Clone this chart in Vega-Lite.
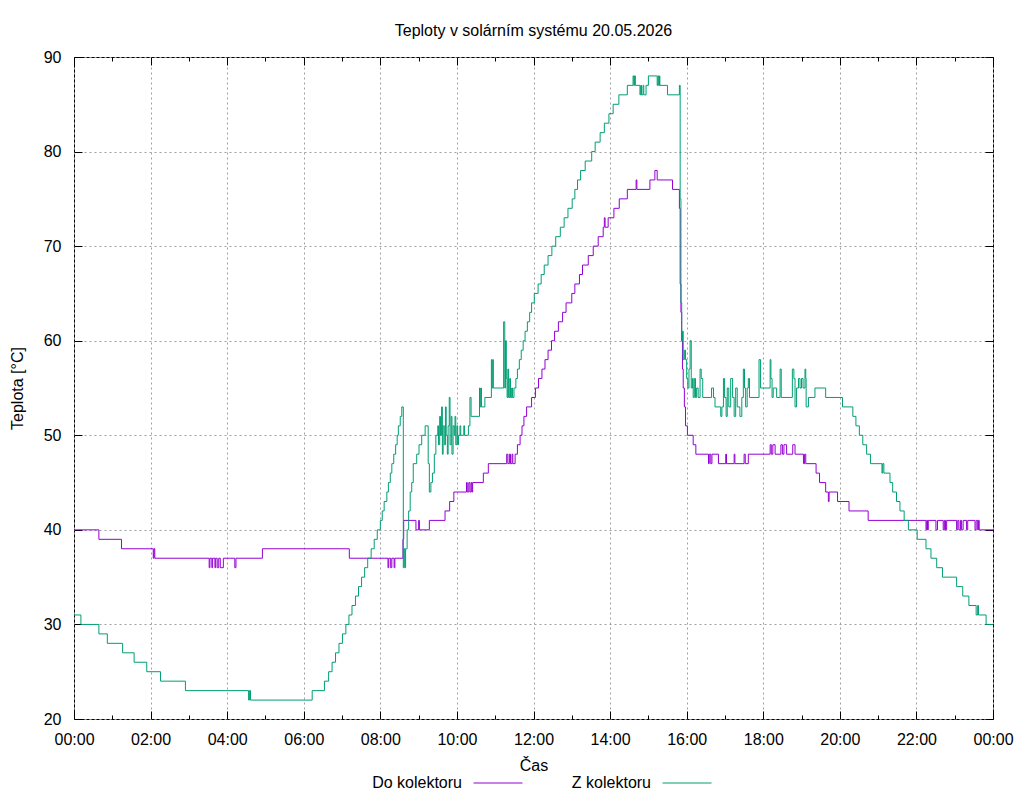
{
  "$schema": "https://vega.github.io/schema/vega-lite/v6.json",
  "width": 919,
  "height": 662,
  "autosize": "none",
  "padding": {"left": 74, "top": 57, "right": 31, "bottom": 81},
  "background": "white",
  "title": {
    "text": "Teploty v solárním systému 20.05.2026",
    "font": "Liberation Sans",
    "fontSize": 16,
    "fontWeight": "normal",
    "color": "black",
    "offset": 10
  },
  "config": {
    "view": {"stroke": "black", "strokeWidth": 1},
    "font": "Liberation Sans",
    "axis": {
      "domain": false,
      "labelFont": "Liberation Sans",
      "labelFontSize": 16,
      "labelColor": "black",
      "titleFont": "Liberation Sans",
      "titleFontSize": 16,
      "titleFontWeight": "normal",
      "titleColor": "black",
      "tickColor": "black",
      "gridColor": "#a0a0a0",
      "gridDash": [2, 3],
      "gridWidth": 1
    }
  },
  "datasets": {
    "teploty": [
      {"serie": "Do kolektoru", "cas": 0, "teplota": 40},
      {"serie": "Do kolektoru", "cas": 0.65, "teplota": 39},
      {"serie": "Do kolektoru", "cas": 1.24, "teplota": 38},
      {"serie": "Do kolektoru", "cas": 2.07, "teplota": 37},
      {"serie": "Do kolektoru", "cas": 2.09, "teplota": 38},
      {"serie": "Do kolektoru", "cas": 2.11, "teplota": 37},
      {"serie": "Do kolektoru", "cas": 3.53, "teplota": 36},
      {"serie": "Do kolektoru", "cas": 3.55, "teplota": 37},
      {"serie": "Do kolektoru", "cas": 3.6, "teplota": 36},
      {"serie": "Do kolektoru", "cas": 3.62, "teplota": 37},
      {"serie": "Do kolektoru", "cas": 3.68, "teplota": 36},
      {"serie": "Do kolektoru", "cas": 3.7, "teplota": 37},
      {"serie": "Do kolektoru", "cas": 3.74, "teplota": 36},
      {"serie": "Do kolektoru", "cas": 3.78, "teplota": 37},
      {"serie": "Do kolektoru", "cas": 3.82, "teplota": 36},
      {"serie": "Do kolektoru", "cas": 3.9, "teplota": 37},
      {"serie": "Do kolektoru", "cas": 4.2, "teplota": 36},
      {"serie": "Do kolektoru", "cas": 4.23, "teplota": 37},
      {"serie": "Do kolektoru", "cas": 4.92, "teplota": 38},
      {"serie": "Do kolektoru", "cas": 7.19, "teplota": 37},
      {"serie": "Do kolektoru", "cas": 8.2, "teplota": 36},
      {"serie": "Do kolektoru", "cas": 8.22, "teplota": 37},
      {"serie": "Do kolektoru", "cas": 8.27, "teplota": 36},
      {"serie": "Do kolektoru", "cas": 8.3, "teplota": 37},
      {"serie": "Do kolektoru", "cas": 8.36, "teplota": 36},
      {"serie": "Do kolektoru", "cas": 8.38, "teplota": 37},
      {"serie": "Do kolektoru", "cas": 8.59, "teplota": 39},
      {"serie": "Do kolektoru", "cas": 8.61, "teplota": 41},
      {"serie": "Do kolektoru", "cas": 8.93, "teplota": 40},
      {"serie": "Do kolektoru", "cas": 9.0, "teplota": 41},
      {"serie": "Do kolektoru", "cas": 9.02, "teplota": 40},
      {"serie": "Do kolektoru", "cas": 9.28, "teplota": 41},
      {"serie": "Do kolektoru", "cas": 9.69, "teplota": 42},
      {"serie": "Do kolektoru", "cas": 9.81, "teplota": 43},
      {"serie": "Do kolektoru", "cas": 9.92, "teplota": 44},
      {"serie": "Do kolektoru", "cas": 10.25, "teplota": 45},
      {"serie": "Do kolektoru", "cas": 10.27, "teplota": 44},
      {"serie": "Do kolektoru", "cas": 10.31, "teplota": 45},
      {"serie": "Do kolektoru", "cas": 10.34, "teplota": 44},
      {"serie": "Do kolektoru", "cas": 10.37, "teplota": 45},
      {"serie": "Do kolektoru", "cas": 10.39, "teplota": 44},
      {"serie": "Do kolektoru", "cas": 10.41, "teplota": 45},
      {"serie": "Do kolektoru", "cas": 10.69, "teplota": 46},
      {"serie": "Do kolektoru", "cas": 10.82, "teplota": 47},
      {"serie": "Do kolektoru", "cas": 11.3, "teplota": 48},
      {"serie": "Do kolektoru", "cas": 11.33, "teplota": 47},
      {"serie": "Do kolektoru", "cas": 11.37, "teplota": 48},
      {"serie": "Do kolektoru", "cas": 11.4, "teplota": 47},
      {"serie": "Do kolektoru", "cas": 11.44, "teplota": 48},
      {"serie": "Do kolektoru", "cas": 11.46, "teplota": 47},
      {"serie": "Do kolektoru", "cas": 11.52, "teplota": 48},
      {"serie": "Do kolektoru", "cas": 11.58, "teplota": 49},
      {"serie": "Do kolektoru", "cas": 11.65, "teplota": 50},
      {"serie": "Do kolektoru", "cas": 11.7, "teplota": 51},
      {"serie": "Do kolektoru", "cas": 11.75, "teplota": 52},
      {"serie": "Do kolektoru", "cas": 11.82, "teplota": 53},
      {"serie": "Do kolektoru", "cas": 11.95, "teplota": 54},
      {"serie": "Do kolektoru", "cas": 12.05, "teplota": 55},
      {"serie": "Do kolektoru", "cas": 12.13, "teplota": 56},
      {"serie": "Do kolektoru", "cas": 12.22, "teplota": 57},
      {"serie": "Do kolektoru", "cas": 12.3, "teplota": 58},
      {"serie": "Do kolektoru", "cas": 12.38, "teplota": 59},
      {"serie": "Do kolektoru", "cas": 12.47, "teplota": 60},
      {"serie": "Do kolektoru", "cas": 12.55, "teplota": 61},
      {"serie": "Do kolektoru", "cas": 12.65, "teplota": 62},
      {"serie": "Do kolektoru", "cas": 12.76, "teplota": 63},
      {"serie": "Do kolektoru", "cas": 12.85, "teplota": 64},
      {"serie": "Do kolektoru", "cas": 13.0, "teplota": 65},
      {"serie": "Do kolektoru", "cas": 13.08, "teplota": 66},
      {"serie": "Do kolektoru", "cas": 13.2, "teplota": 67},
      {"serie": "Do kolektoru", "cas": 13.28, "teplota": 68},
      {"serie": "Do kolektoru", "cas": 13.43, "teplota": 69},
      {"serie": "Do kolektoru", "cas": 13.56, "teplota": 70},
      {"serie": "Do kolektoru", "cas": 13.69, "teplota": 71},
      {"serie": "Do kolektoru", "cas": 13.82, "teplota": 72},
      {"serie": "Do kolektoru", "cas": 13.85, "teplota": 73},
      {"serie": "Do kolektoru", "cas": 13.87, "teplota": 72},
      {"serie": "Do kolektoru", "cas": 13.95, "teplota": 73},
      {"serie": "Do kolektoru", "cas": 14.1, "teplota": 74},
      {"serie": "Do kolektoru", "cas": 14.24, "teplota": 75},
      {"serie": "Do kolektoru", "cas": 14.45, "teplota": 76},
      {"serie": "Do kolektoru", "cas": 14.68, "teplota": 77},
      {"serie": "Do kolektoru", "cas": 14.7, "teplota": 76},
      {"serie": "Do kolektoru", "cas": 15.04, "teplota": 77},
      {"serie": "Do kolektoru", "cas": 15.17, "teplota": 78},
      {"serie": "Do kolektoru", "cas": 15.23, "teplota": 77},
      {"serie": "Do kolektoru", "cas": 15.63, "teplota": 76},
      {"serie": "Do kolektoru", "cas": 15.81, "teplota": 74},
      {"serie": "Do kolektoru", "cas": 15.83, "teplota": 66},
      {"serie": "Do kolektoru", "cas": 15.85, "teplota": 63},
      {"serie": "Do kolektoru", "cas": 15.87, "teplota": 60},
      {"serie": "Do kolektoru", "cas": 15.89, "teplota": 57},
      {"serie": "Do kolektoru", "cas": 15.91, "teplota": 55},
      {"serie": "Do kolektoru", "cas": 15.94, "teplota": 53},
      {"serie": "Do kolektoru", "cas": 15.97, "teplota": 51},
      {"serie": "Do kolektoru", "cas": 16.02, "teplota": 50},
      {"serie": "Do kolektoru", "cas": 16.17, "teplota": 49},
      {"serie": "Do kolektoru", "cas": 16.24, "teplota": 48},
      {"serie": "Do kolektoru", "cas": 16.57, "teplota": 47},
      {"serie": "Do kolektoru", "cas": 16.59, "teplota": 48},
      {"serie": "Do kolektoru", "cas": 16.63, "teplota": 47},
      {"serie": "Do kolektoru", "cas": 16.66, "teplota": 48},
      {"serie": "Do kolektoru", "cas": 16.83, "teplota": 47},
      {"serie": "Do kolektoru", "cas": 17.02, "teplota": 48},
      {"serie": "Do kolektoru", "cas": 17.04, "teplota": 47},
      {"serie": "Do kolektoru", "cas": 17.24, "teplota": 48},
      {"serie": "Do kolektoru", "cas": 17.26, "teplota": 47},
      {"serie": "Do kolektoru", "cas": 17.5, "teplota": 48},
      {"serie": "Do kolektoru", "cas": 17.53, "teplota": 47},
      {"serie": "Do kolektoru", "cas": 17.61, "teplota": 48},
      {"serie": "Do kolektoru", "cas": 18.18, "teplota": 49},
      {"serie": "Do kolektoru", "cas": 18.21, "teplota": 48},
      {"serie": "Do kolektoru", "cas": 18.25, "teplota": 49},
      {"serie": "Do kolektoru", "cas": 18.31, "teplota": 48},
      {"serie": "Do kolektoru", "cas": 18.46, "teplota": 49},
      {"serie": "Do kolektoru", "cas": 18.5, "teplota": 48},
      {"serie": "Do kolektoru", "cas": 18.54, "teplota": 49},
      {"serie": "Do kolektoru", "cas": 18.61, "teplota": 48},
      {"serie": "Do kolektoru", "cas": 18.77, "teplota": 49},
      {"serie": "Do kolektoru", "cas": 18.83, "teplota": 48},
      {"serie": "Do kolektoru", "cas": 19.05, "teplota": 47},
      {"serie": "Do kolektoru", "cas": 19.08, "teplota": 48},
      {"serie": "Do kolektoru", "cas": 19.11, "teplota": 47},
      {"serie": "Do kolektoru", "cas": 19.38, "teplota": 46},
      {"serie": "Do kolektoru", "cas": 19.47, "teplota": 45},
      {"serie": "Do kolektoru", "cas": 19.63, "teplota": 44},
      {"serie": "Do kolektoru", "cas": 19.7, "teplota": 43},
      {"serie": "Do kolektoru", "cas": 19.72, "teplota": 44},
      {"serie": "Do kolektoru", "cas": 19.94, "teplota": 43},
      {"serie": "Do kolektoru", "cas": 20.24, "teplota": 42},
      {"serie": "Do kolektoru", "cas": 20.74, "teplota": 41},
      {"serie": "Do kolektoru", "cas": 22.25, "teplota": 40},
      {"serie": "Do kolektoru", "cas": 22.27, "teplota": 41},
      {"serie": "Do kolektoru", "cas": 22.29, "teplota": 40},
      {"serie": "Do kolektoru", "cas": 22.31, "teplota": 41},
      {"serie": "Do kolektoru", "cas": 22.51, "teplota": 40},
      {"serie": "Do kolektoru", "cas": 22.55, "teplota": 41},
      {"serie": "Do kolektoru", "cas": 22.7, "teplota": 40},
      {"serie": "Do kolektoru", "cas": 22.73, "teplota": 41},
      {"serie": "Do kolektoru", "cas": 22.76, "teplota": 40},
      {"serie": "Do kolektoru", "cas": 22.79, "teplota": 41},
      {"serie": "Do kolektoru", "cas": 23.05, "teplota": 40},
      {"serie": "Do kolektoru", "cas": 23.08, "teplota": 41},
      {"serie": "Do kolektoru", "cas": 23.11, "teplota": 40},
      {"serie": "Do kolektoru", "cas": 23.15, "teplota": 41},
      {"serie": "Do kolektoru", "cas": 23.18, "teplota": 40},
      {"serie": "Do kolektoru", "cas": 23.22, "teplota": 41},
      {"serie": "Do kolektoru", "cas": 23.31, "teplota": 40},
      {"serie": "Do kolektoru", "cas": 23.34, "teplota": 41},
      {"serie": "Do kolektoru", "cas": 23.53, "teplota": 40},
      {"serie": "Do kolektoru", "cas": 23.56, "teplota": 41},
      {"serie": "Do kolektoru", "cas": 23.6, "teplota": 40},
      {"serie": "Do kolektoru", "cas": 23.62, "teplota": 41},
      {"serie": "Do kolektoru", "cas": 23.64, "teplota": 40},
      {"serie": "Do kolektoru", "cas": 24, "teplota": 40},

      {"serie": "Z kolektoru", "cas": 0, "teplota": 31},
      {"serie": "Z kolektoru", "cas": 0.18, "teplota": 30},
      {"serie": "Z kolektoru", "cas": 0.65, "teplota": 29},
      {"serie": "Z kolektoru", "cas": 0.87, "teplota": 28},
      {"serie": "Z kolektoru", "cas": 1.27, "teplota": 27},
      {"serie": "Z kolektoru", "cas": 1.57, "teplota": 26},
      {"serie": "Z kolektoru", "cas": 1.9, "teplota": 25},
      {"serie": "Z kolektoru", "cas": 2.26, "teplota": 24},
      {"serie": "Z kolektoru", "cas": 2.91, "teplota": 23},
      {"serie": "Z kolektoru", "cas": 4.56, "teplota": 22},
      {"serie": "Z kolektoru", "cas": 4.58, "teplota": 23},
      {"serie": "Z kolektoru", "cas": 4.61, "teplota": 22},
      {"serie": "Z kolektoru", "cas": 6.22, "teplota": 23},
      {"serie": "Z kolektoru", "cas": 6.54, "teplota": 24},
      {"serie": "Z kolektoru", "cas": 6.65, "teplota": 25},
      {"serie": "Z kolektoru", "cas": 6.74, "teplota": 26},
      {"serie": "Z kolektoru", "cas": 6.83, "teplota": 27},
      {"serie": "Z kolektoru", "cas": 6.92, "teplota": 28},
      {"serie": "Z kolektoru", "cas": 7.01, "teplota": 29},
      {"serie": "Z kolektoru", "cas": 7.1, "teplota": 30},
      {"serie": "Z kolektoru", "cas": 7.18, "teplota": 31},
      {"serie": "Z kolektoru", "cas": 7.26, "teplota": 32},
      {"serie": "Z kolektoru", "cas": 7.35, "teplota": 33},
      {"serie": "Z kolektoru", "cas": 7.43, "teplota": 34},
      {"serie": "Z kolektoru", "cas": 7.51, "teplota": 35},
      {"serie": "Z kolektoru", "cas": 7.59, "teplota": 36},
      {"serie": "Z kolektoru", "cas": 7.67, "teplota": 37},
      {"serie": "Z kolektoru", "cas": 7.76, "teplota": 38},
      {"serie": "Z kolektoru", "cas": 7.84, "teplota": 39},
      {"serie": "Z kolektoru", "cas": 7.92, "teplota": 40},
      {"serie": "Z kolektoru", "cas": 8.0, "teplota": 41},
      {"serie": "Z kolektoru", "cas": 8.05, "teplota": 42},
      {"serie": "Z kolektoru", "cas": 8.1, "teplota": 43},
      {"serie": "Z kolektoru", "cas": 8.17, "teplota": 44},
      {"serie": "Z kolektoru", "cas": 8.21, "teplota": 45},
      {"serie": "Z kolektoru", "cas": 8.26, "teplota": 46},
      {"serie": "Z kolektoru", "cas": 8.3, "teplota": 47},
      {"serie": "Z kolektoru", "cas": 8.35, "teplota": 48},
      {"serie": "Z kolektoru", "cas": 8.4, "teplota": 49},
      {"serie": "Z kolektoru", "cas": 8.44, "teplota": 50},
      {"serie": "Z kolektoru", "cas": 8.47, "teplota": 51},
      {"serie": "Z kolektoru", "cas": 8.52, "teplota": 52},
      {"serie": "Z kolektoru", "cas": 8.56, "teplota": 53},
      {"serie": "Z kolektoru", "cas": 8.6, "teplota": 36},
      {"serie": "Z kolektoru", "cas": 8.62, "teplota": 38},
      {"serie": "Z kolektoru", "cas": 8.64, "teplota": 36},
      {"serie": "Z kolektoru", "cas": 8.66, "teplota": 38},
      {"serie": "Z kolektoru", "cas": 8.7, "teplota": 40},
      {"serie": "Z kolektoru", "cas": 8.74, "teplota": 42},
      {"serie": "Z kolektoru", "cas": 8.78, "teplota": 44},
      {"serie": "Z kolektoru", "cas": 8.82, "teplota": 45},
      {"serie": "Z kolektoru", "cas": 8.86, "teplota": 47},
      {"serie": "Z kolektoru", "cas": 8.95, "teplota": 48},
      {"serie": "Z kolektoru", "cas": 9.01, "teplota": 49},
      {"serie": "Z kolektoru", "cas": 9.08, "teplota": 50},
      {"serie": "Z kolektoru", "cas": 9.17, "teplota": 51},
      {"serie": "Z kolektoru", "cas": 9.25, "teplota": 47},
      {"serie": "Z kolektoru", "cas": 9.28, "teplota": 44},
      {"serie": "Z kolektoru", "cas": 9.32, "teplota": 45},
      {"serie": "Z kolektoru", "cas": 9.36, "teplota": 46},
      {"serie": "Z kolektoru", "cas": 9.41, "teplota": 48},
      {"serie": "Z kolektoru", "cas": 9.45, "teplota": 50},
      {"serie": "Z kolektoru", "cas": 9.5, "teplota": 51},
      {"serie": "Z kolektoru", "cas": 9.52, "teplota": 49},
      {"serie": "Z kolektoru", "cas": 9.55, "teplota": 52},
      {"serie": "Z kolektoru", "cas": 9.57, "teplota": 50},
      {"serie": "Z kolektoru", "cas": 9.6, "teplota": 53},
      {"serie": "Z kolektoru", "cas": 9.62, "teplota": 48},
      {"serie": "Z kolektoru", "cas": 9.64, "teplota": 51},
      {"serie": "Z kolektoru", "cas": 9.67, "teplota": 49},
      {"serie": "Z kolektoru", "cas": 9.7, "teplota": 53},
      {"serie": "Z kolektoru", "cas": 9.72, "teplota": 50},
      {"serie": "Z kolektoru", "cas": 9.75, "teplota": 48},
      {"serie": "Z kolektoru", "cas": 9.77, "teplota": 51},
      {"serie": "Z kolektoru", "cas": 9.8, "teplota": 54},
      {"serie": "Z kolektoru", "cas": 9.82, "teplota": 49},
      {"serie": "Z kolektoru", "cas": 9.85, "teplota": 52},
      {"serie": "Z kolektoru", "cas": 9.87, "teplota": 48},
      {"serie": "Z kolektoru", "cas": 9.9, "teplota": 51},
      {"serie": "Z kolektoru", "cas": 9.93, "teplota": 50},
      {"serie": "Z kolektoru", "cas": 9.95, "teplota": 52},
      {"serie": "Z kolektoru", "cas": 9.97, "teplota": 49},
      {"serie": "Z kolektoru", "cas": 10.0, "teplota": 51},
      {"serie": "Z kolektoru", "cas": 10.02, "teplota": 49},
      {"serie": "Z kolektoru", "cas": 10.04, "teplota": 50},
      {"serie": "Z kolektoru", "cas": 10.08, "teplota": 51},
      {"serie": "Z kolektoru", "cas": 10.1, "teplota": 50},
      {"serie": "Z kolektoru", "cas": 10.18, "teplota": 51},
      {"serie": "Z kolektoru", "cas": 10.2, "teplota": 50},
      {"serie": "Z kolektoru", "cas": 10.3, "teplota": 51},
      {"serie": "Z kolektoru", "cas": 10.34, "teplota": 54},
      {"serie": "Z kolektoru", "cas": 10.37, "teplota": 52},
      {"serie": "Z kolektoru", "cas": 10.59, "teplota": 55},
      {"serie": "Z kolektoru", "cas": 10.61, "teplota": 53},
      {"serie": "Z kolektoru", "cas": 10.63, "teplota": 55},
      {"serie": "Z kolektoru", "cas": 10.64, "teplota": 53},
      {"serie": "Z kolektoru", "cas": 10.73, "teplota": 54},
      {"serie": "Z kolektoru", "cas": 10.9, "teplota": 58},
      {"serie": "Z kolektoru", "cas": 10.92, "teplota": 55},
      {"serie": "Z kolektoru", "cas": 10.94, "teplota": 58},
      {"serie": "Z kolektoru", "cas": 10.95, "teplota": 55},
      {"serie": "Z kolektoru", "cas": 11.22, "teplota": 62},
      {"serie": "Z kolektoru", "cas": 11.25, "teplota": 55},
      {"serie": "Z kolektoru", "cas": 11.27, "teplota": 60},
      {"serie": "Z kolektoru", "cas": 11.29, "teplota": 56},
      {"serie": "Z kolektoru", "cas": 11.31, "teplota": 54},
      {"serie": "Z kolektoru", "cas": 11.33, "teplota": 57},
      {"serie": "Z kolektoru", "cas": 11.35, "teplota": 54},
      {"serie": "Z kolektoru", "cas": 11.38, "teplota": 56},
      {"serie": "Z kolektoru", "cas": 11.4, "teplota": 54},
      {"serie": "Z kolektoru", "cas": 11.43, "teplota": 55},
      {"serie": "Z kolektoru", "cas": 11.45, "teplota": 54},
      {"serie": "Z kolektoru", "cas": 11.49, "teplota": 55},
      {"serie": "Z kolektoru", "cas": 11.54, "teplota": 56},
      {"serie": "Z kolektoru", "cas": 11.58, "teplota": 57},
      {"serie": "Z kolektoru", "cas": 11.63, "teplota": 58},
      {"serie": "Z kolektoru", "cas": 11.68, "teplota": 59},
      {"serie": "Z kolektoru", "cas": 11.73, "teplota": 60},
      {"serie": "Z kolektoru", "cas": 11.78, "teplota": 61},
      {"serie": "Z kolektoru", "cas": 11.84, "teplota": 62},
      {"serie": "Z kolektoru", "cas": 11.9, "teplota": 63},
      {"serie": "Z kolektoru", "cas": 11.95, "teplota": 64},
      {"serie": "Z kolektoru", "cas": 12.02, "teplota": 65},
      {"serie": "Z kolektoru", "cas": 12.12, "teplota": 66},
      {"serie": "Z kolektoru", "cas": 12.2, "teplota": 67},
      {"serie": "Z kolektoru", "cas": 12.28, "teplota": 68},
      {"serie": "Z kolektoru", "cas": 12.38, "teplota": 69},
      {"serie": "Z kolektoru", "cas": 12.48, "teplota": 70},
      {"serie": "Z kolektoru", "cas": 12.58, "teplota": 71},
      {"serie": "Z kolektoru", "cas": 12.7, "teplota": 72},
      {"serie": "Z kolektoru", "cas": 12.8, "teplota": 73},
      {"serie": "Z kolektoru", "cas": 12.9, "teplota": 74},
      {"serie": "Z kolektoru", "cas": 13.01, "teplota": 75},
      {"serie": "Z kolektoru", "cas": 13.08, "teplota": 76},
      {"serie": "Z kolektoru", "cas": 13.15, "teplota": 77},
      {"serie": "Z kolektoru", "cas": 13.23, "teplota": 78},
      {"serie": "Z kolektoru", "cas": 13.35, "teplota": 79},
      {"serie": "Z kolektoru", "cas": 13.52, "teplota": 80},
      {"serie": "Z kolektoru", "cas": 13.61, "teplota": 81},
      {"serie": "Z kolektoru", "cas": 13.74, "teplota": 82},
      {"serie": "Z kolektoru", "cas": 13.85, "teplota": 83},
      {"serie": "Z kolektoru", "cas": 13.97, "teplota": 84},
      {"serie": "Z kolektoru", "cas": 14.08, "teplota": 85},
      {"serie": "Z kolektoru", "cas": 14.23, "teplota": 86},
      {"serie": "Z kolektoru", "cas": 14.45, "teplota": 87},
      {"serie": "Z kolektoru", "cas": 14.6, "teplota": 88},
      {"serie": "Z kolektoru", "cas": 14.62, "teplota": 87},
      {"serie": "Z kolektoru", "cas": 14.64, "teplota": 88},
      {"serie": "Z kolektoru", "cas": 14.66, "teplota": 87},
      {"serie": "Z kolektoru", "cas": 14.78, "teplota": 86},
      {"serie": "Z kolektoru", "cas": 14.8, "teplota": 87},
      {"serie": "Z kolektoru", "cas": 14.82, "teplota": 86},
      {"serie": "Z kolektoru", "cas": 14.86, "teplota": 87},
      {"serie": "Z kolektoru", "cas": 14.88, "teplota": 86},
      {"serie": "Z kolektoru", "cas": 14.94, "teplota": 87},
      {"serie": "Z kolektoru", "cas": 15.0, "teplota": 88},
      {"serie": "Z kolektoru", "cas": 15.23, "teplota": 87},
      {"serie": "Z kolektoru", "cas": 15.25, "teplota": 88},
      {"serie": "Z kolektoru", "cas": 15.27, "teplota": 87},
      {"serie": "Z kolektoru", "cas": 15.29, "teplota": 88},
      {"serie": "Z kolektoru", "cas": 15.3, "teplota": 87},
      {"serie": "Z kolektoru", "cas": 15.5, "teplota": 86},
      {"serie": "Z kolektoru", "cas": 15.81, "teplota": 87},
      {"serie": "Z kolektoru", "cas": 15.83, "teplota": 75},
      {"serie": "Z kolektoru", "cas": 15.85, "teplota": 64},
      {"serie": "Z kolektoru", "cas": 15.87, "teplota": 60},
      {"serie": "Z kolektoru", "cas": 15.89, "teplota": 61},
      {"serie": "Z kolektoru", "cas": 15.91, "teplota": 58},
      {"serie": "Z kolektoru", "cas": 15.94, "teplota": 59},
      {"serie": "Z kolektoru", "cas": 15.97, "teplota": 58},
      {"serie": "Z kolektoru", "cas": 16.0, "teplota": 56},
      {"serie": "Z kolektoru", "cas": 16.03, "teplota": 55},
      {"serie": "Z kolektoru", "cas": 16.06, "teplota": 57},
      {"serie": "Z kolektoru", "cas": 16.09, "teplota": 60},
      {"serie": "Z kolektoru", "cas": 16.12, "teplota": 55},
      {"serie": "Z kolektoru", "cas": 16.15, "teplota": 56},
      {"serie": "Z kolektoru", "cas": 16.17, "teplota": 54},
      {"serie": "Z kolektoru", "cas": 16.2, "teplota": 56},
      {"serie": "Z kolektoru", "cas": 16.23, "teplota": 54},
      {"serie": "Z kolektoru", "cas": 16.26, "teplota": 55},
      {"serie": "Z kolektoru", "cas": 16.3, "teplota": 54},
      {"serie": "Z kolektoru", "cas": 16.35, "teplota": 57},
      {"serie": "Z kolektoru", "cas": 16.38, "teplota": 56},
      {"serie": "Z kolektoru", "cas": 16.42, "teplota": 54},
      {"serie": "Z kolektoru", "cas": 16.65, "teplota": 55},
      {"serie": "Z kolektoru", "cas": 16.7, "teplota": 54},
      {"serie": "Z kolektoru", "cas": 16.74, "teplota": 53},
      {"serie": "Z kolektoru", "cas": 16.89, "teplota": 52},
      {"serie": "Z kolektoru", "cas": 16.92, "teplota": 53},
      {"serie": "Z kolektoru", "cas": 16.96, "teplota": 56},
      {"serie": "Z kolektoru", "cas": 16.99, "teplota": 54},
      {"serie": "Z kolektoru", "cas": 17.03, "teplota": 52},
      {"serie": "Z kolektoru", "cas": 17.06, "teplota": 55},
      {"serie": "Z kolektoru", "cas": 17.1, "teplota": 53},
      {"serie": "Z kolektoru", "cas": 17.15, "teplota": 56},
      {"serie": "Z kolektoru", "cas": 17.2, "teplota": 54},
      {"serie": "Z kolektoru", "cas": 17.24, "teplota": 52},
      {"serie": "Z kolektoru", "cas": 17.28, "teplota": 55},
      {"serie": "Z kolektoru", "cas": 17.32, "teplota": 53},
      {"serie": "Z kolektoru", "cas": 17.39, "teplota": 52},
      {"serie": "Z kolektoru", "cas": 17.44, "teplota": 54},
      {"serie": "Z kolektoru", "cas": 17.48, "teplota": 57},
      {"serie": "Z kolektoru", "cas": 17.51, "teplota": 55},
      {"serie": "Z kolektoru", "cas": 17.54, "teplota": 53},
      {"serie": "Z kolektoru", "cas": 17.58, "teplota": 55},
      {"serie": "Z kolektoru", "cas": 17.61, "teplota": 56},
      {"serie": "Z kolektoru", "cas": 17.64, "teplota": 54},
      {"serie": "Z kolektoru", "cas": 17.89, "teplota": 58},
      {"serie": "Z kolektoru", "cas": 17.93, "teplota": 55},
      {"serie": "Z kolektoru", "cas": 18.18, "teplota": 58},
      {"serie": "Z kolektoru", "cas": 18.2, "teplota": 56},
      {"serie": "Z kolektoru", "cas": 18.23, "teplota": 54},
      {"serie": "Z kolektoru", "cas": 18.26, "teplota": 55},
      {"serie": "Z kolektoru", "cas": 18.35, "teplota": 54},
      {"serie": "Z kolektoru", "cas": 18.44, "teplota": 57},
      {"serie": "Z kolektoru", "cas": 18.47, "teplota": 54},
      {"serie": "Z kolektoru", "cas": 18.76, "teplota": 57},
      {"serie": "Z kolektoru", "cas": 18.8, "teplota": 56},
      {"serie": "Z kolektoru", "cas": 18.83, "teplota": 53},
      {"serie": "Z kolektoru", "cas": 18.87, "teplota": 55},
      {"serie": "Z kolektoru", "cas": 18.92, "teplota": 56},
      {"serie": "Z kolektoru", "cas": 18.96, "teplota": 55},
      {"serie": "Z kolektoru", "cas": 19.0, "teplota": 56},
      {"serie": "Z kolektoru", "cas": 19.04, "teplota": 55},
      {"serie": "Z kolektoru", "cas": 19.09, "teplota": 57},
      {"serie": "Z kolektoru", "cas": 19.11, "teplota": 56},
      {"serie": "Z kolektoru", "cas": 19.12, "teplota": 53},
      {"serie": "Z kolektoru", "cas": 19.18, "teplota": 54},
      {"serie": "Z kolektoru", "cas": 19.35, "teplota": 55},
      {"serie": "Z kolektoru", "cas": 19.63, "teplota": 54},
      {"serie": "Z kolektoru", "cas": 20.07, "teplota": 53},
      {"serie": "Z kolektoru", "cas": 20.34, "teplota": 52},
      {"serie": "Z kolektoru", "cas": 20.42, "teplota": 51},
      {"serie": "Z kolektoru", "cas": 20.51, "teplota": 50},
      {"serie": "Z kolektoru", "cas": 20.6, "teplota": 49},
      {"serie": "Z kolektoru", "cas": 20.7, "teplota": 48},
      {"serie": "Z kolektoru", "cas": 20.8, "teplota": 47},
      {"serie": "Z kolektoru", "cas": 21.1, "teplota": 46},
      {"serie": "Z kolektoru", "cas": 21.12, "teplota": 47},
      {"serie": "Z kolektoru", "cas": 21.15, "teplota": 46},
      {"serie": "Z kolektoru", "cas": 21.31, "teplota": 45},
      {"serie": "Z kolektoru", "cas": 21.38, "teplota": 44},
      {"serie": "Z kolektoru", "cas": 21.48, "teplota": 43},
      {"serie": "Z kolektoru", "cas": 21.57, "teplota": 42},
      {"serie": "Z kolektoru", "cas": 21.68, "teplota": 41},
      {"serie": "Z kolektoru", "cas": 21.79, "teplota": 40},
      {"serie": "Z kolektoru", "cas": 22.02, "teplota": 39},
      {"serie": "Z kolektoru", "cas": 22.25, "teplota": 38},
      {"serie": "Z kolektoru", "cas": 22.38, "teplota": 37},
      {"serie": "Z kolektoru", "cas": 22.53, "teplota": 36},
      {"serie": "Z kolektoru", "cas": 22.68, "teplota": 35},
      {"serie": "Z kolektoru", "cas": 23.05, "teplota": 34},
      {"serie": "Z kolektoru", "cas": 23.21, "teplota": 33},
      {"serie": "Z kolektoru", "cas": 23.37, "teplota": 32},
      {"serie": "Z kolektoru", "cas": 23.56, "teplota": 31},
      {"serie": "Z kolektoru", "cas": 23.6, "teplota": 32},
      {"serie": "Z kolektoru", "cas": 23.62, "teplota": 31},
      {"serie": "Z kolektoru", "cas": 23.82, "teplota": 30},
      {"serie": "Z kolektoru", "cas": 24, "teplota": 30}
    ]
  },
  "data": {"name": "teploty"},
  "layer": [
    {
      "mark": {"type": "line", "interpolate": "step-after", "strokeWidth": 1},
      "encoding": {
        "x": {
          "field": "cas", "type": "quantitative",
          "scale": {"domain": [0, 24], "nice": false, "zero": false},
          "axis": {
            "orient": "bottom",
            "title": "Čas",
            "titlePadding": 10,
            "values": [0, 2, 4, 6, 8, 10, 12, 14, 16, 18, 20, 22, 24],
            "labelExpr": "(datum.value % 24 < 10 ? '0' : '') + (datum.value % 24) + ':00'",
            "labelFlush": false,
            "labelPadding": 20,
            "tickSize": -8,
            "grid": true
          }
        },
        "y": {
          "field": "teplota", "type": "quantitative",
          "scale": {"domain": [20, 90], "nice": false, "zero": false},
          "axis": {
            "orient": "left",
            "title": "Teplota [°C]",
            "titlePadding": 18,
            "values": [20, 30, 40, 50, 60, 70, 80, 90],
            "labelPadding": 21,
            "tickSize": -8,
            "grid": true
          }
        },
        "color": {
          "field": "serie", "type": "nominal",
          "scale": {"domain": ["Do kolektoru", "Z kolektoru"], "range": ["#9400d3", "#009e73"]},
          "legend": {
            "orient": "none",
            "legendX": 399,
            "legendY": 701,
            "direction": "horizontal",
            "columns": 2,
            "title": null,
            "symbolType": "stroke",
            "symbolSize": 2401,
            "symbolStrokeWidth": 1,
            "labelFont": "Liberation Sans",
            "labelFontSize": 16,
            "labelColor": "black",
            "labelAlign": "right",
            "labelOffset": -61,
            "labelLimit": 0,
            "columnPadding": 46
          }
        }
      }
    },
    {
      "mark": {"type": "line", "interpolate": "step-after", "strokeOpacity": 0},
      "encoding": {
        "x": {
          "field": "cas", "type": "quantitative",
          "axis": {"orient": "bottom", "title": null, "labels": false, "grid": false,
                   "values": [1, 3, 5, 7, 9, 11, 13, 15, 17, 19, 21, 23], "tickSize": -4}
        },
        "y": {
          "field": "teplota", "type": "quantitative",
          "axis": {"orient": "right", "title": null, "labels": false, "grid": false,
                   "values": [20, 30, 40, 50, 60, 70, 80, 90], "tickSize": -8}
        },
        "detail": {"field": "serie"}
      }
    },
    {
      "mark": {"type": "line", "interpolate": "step-after", "strokeOpacity": 0},
      "encoding": {
        "x": {
          "field": "cas", "type": "quantitative",
          "axis": {"orient": "top", "title": null, "labels": false, "grid": false,
                   "values": [0, 2, 4, 6, 8, 10, 12, 14, 16, 18, 20, 22, 24], "tickSize": -8}
        },
        "y": {"field": "teplota", "type": "quantitative", "axis": null},
        "detail": {"field": "serie"}
      }
    },
    {
      "mark": {"type": "line", "interpolate": "step-after", "strokeOpacity": 0},
      "encoding": {
        "x": {
          "field": "cas", "type": "quantitative",
          "axis": {"orient": "top", "title": null, "labels": false, "grid": false,
                   "values": [1, 3, 5, 7, 9, 11, 13, 15, 17, 19, 21, 23], "tickSize": -4}
        },
        "y": {"field": "teplota", "type": "quantitative", "axis": null},
        "detail": {"field": "serie"}
      }
    }
  ],
  "resolve": {"axis": {"x": "independent", "y": "independent"}}
}
